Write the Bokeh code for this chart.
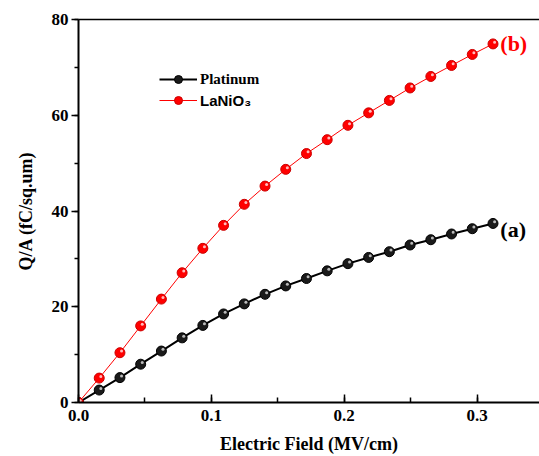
from bokeh.plotting import figure
from bokeh.models import (Range1d, SingleIntervalTicker, FixedTicker, PrintfTickFormatter, LinearAxis,
                          Legend, LegendItem, Label)
from bokeh.embed import file_html
from bokeh.resources import INLINE

# Data
field = [0.0, 0.0156, 0.0312, 0.0468, 0.0624, 0.078, 0.0936, 0.1092, 0.1248, 0.1404,
         0.156, 0.1716, 0.1872, 0.2028, 0.2184, 0.234, 0.2496, 0.2652, 0.2808, 0.2964, 0.312]
platinum = [0.0, 2.6, 5.2, 8.0, 10.75, 13.5, 16.1, 18.5, 20.6, 22.6,
            24.35, 25.9, 27.5, 29.0, 30.3, 31.5, 32.9, 34.0, 35.2, 36.3, 37.4]
lanio3 = [0.0, 5.1, 10.4, 16.0, 21.6, 27.1, 32.2, 37.0, 41.4, 45.2,
          48.7, 52.0, 54.9, 57.9, 60.5, 63.1, 65.7, 68.1, 70.4, 72.7, 74.9]
series_names = ["Platinum", "LaNiO\u2083"]
x_label = "Electric Field (MV/cm)"
y_label = "Q/A (fC/sq.um)"

SERIF = "Liberation Serif"
SANS = "Liberation Sans"

p = figure(width=539, height=456, output_backend="svg", toolbar_location=None,
           x_range=Range1d(0, 0.347), y_range=Range1d(0, 80),
           min_border_left=78, min_border_right=0, min_border_top=19, min_border_bottom=54,
           x_axis_location=None, y_axis_location=None)
p.outline_line_color = None
p.grid.visible = False
p.background_fill_color = "white"
p.border_fill_color = "white"

# Bottom axis
xa = LinearAxis(ticker=SingleIntervalTicker(interval=0.1, num_minor_ticks=2),
                formatter=PrintfTickFormatter(format="%.1f"),
                axis_label=x_label)
xa.axis_line_width = 2
xa.major_tick_in = 8
xa.major_tick_out = 0
xa.minor_tick_in = 5
xa.minor_tick_out = 0
xa.major_tick_line_width = 1.5
xa.minor_tick_line_width = 1.5
xa.major_label_text_font = SERIF
xa.major_label_text_font_style = "bold"
xa.major_label_text_font_size = "17px"
xa.major_label_text_color = "black"
xa.major_label_standoff = 7
xa.axis_label_text_font = SERIF
xa.axis_label_text_font_style = "bold"
xa.axis_label_text_font_size = "18px"
xa.axis_label_text_color = "black"
xa.axis_label_standoff = 10
p.add_layout(xa, "below")

# Left axis
ya = LinearAxis(ticker=SingleIntervalTicker(interval=20, num_minor_ticks=2),
                formatter=PrintfTickFormatter(format="%d"),
                axis_label=y_label)
ya.axis_line_width = 2
ya.major_tick_in = 0
ya.major_tick_out = 7
ya.minor_tick_in = 0
ya.minor_tick_out = 4
ya.major_tick_line_width = 1.5
ya.minor_tick_line_width = 1.5
ya.major_label_text_font = SERIF
ya.major_label_text_font_style = "bold"
ya.major_label_text_font_size = "17px"
ya.major_label_text_color = "black"
ya.major_label_standoff = 3
ya.axis_label_text_font = SERIF
ya.axis_label_text_font_style = "bold"
ya.axis_label_text_font_size = "18px"
ya.axis_label_text_color = "black"
ya.axis_label_standoff = 13
p.add_layout(ya, "left")

# Top axis (frame line only)
ta = LinearAxis(ticker=FixedTicker(ticks=[]))
ta.axis_line_width = 1.5
ta.major_tick_line_color = None
ta.minor_tick_line_color = None
ta.major_label_standoff = 0
p.add_layout(ta, "above")

# Series
l1 = p.line(field, platinum, line_color="black", line_width=2)
s1 = p.scatter(field, platinum, size=10, fill_color="#1a1a1a", line_color="black", line_width=1)
l2 = p.line(field, lanio3, line_color="#ff0000", line_width=1)
s2 = p.scatter(field, lanio3, size=10, fill_color="#ff0000", line_color="#cc0000", line_width=1)
# highlights for a shaded-ball look
p.scatter([f + 0.0012 for f in field], [v + 0.35 for v in platinum], size=3, fill_color="#bbbbbb", line_color=None)
p.scatter([f + 0.0012 for f in field], [v + 0.35 for v in lanio3], size=3, fill_color="#ffbbbb", line_color=None)

leg1 = Legend(items=[LegendItem(label=series_names[0], renderers=[l1, s1])],
              location=(81, 313), glyph_width=38, glyph_height=20, label_standoff=3,
              padding=0, margin=0, border_line_color=None, background_fill_alpha=0,
              label_text_font=SERIF, label_text_font_style="bold", label_text_font_size="15px",
              label_text_color="black", label_height=20)
leg2 = Legend(items=[LegendItem(label=series_names[1], renderers=[l2, s2])],
              location=(81, 292), glyph_width=38, glyph_height=20, label_standoff=3,
              padding=0, margin=0, border_line_color=None, background_fill_alpha=0,
              label_text_font=SANS, label_text_font_style="bold", label_text_font_size="15px",
              label_text_color="black", label_height=20)
p.add_layout(leg1, "center")
p.add_layout(leg2, "center")

p.add_layout(Label(x=0.3175, y=36.2, text="(a)", text_font=SERIF, text_font_style="bold",
                   text_font_size="22px", text_color="black", text_baseline="middle"))
p.add_layout(Label(x=0.3175, y=75.0, text="(b)", text_font=SERIF, text_font_style="bold",
                   text_font_size="22px", text_color="#ff0000", text_baseline="middle"))

open("out.html", "w").write(file_html(p, INLINE))
